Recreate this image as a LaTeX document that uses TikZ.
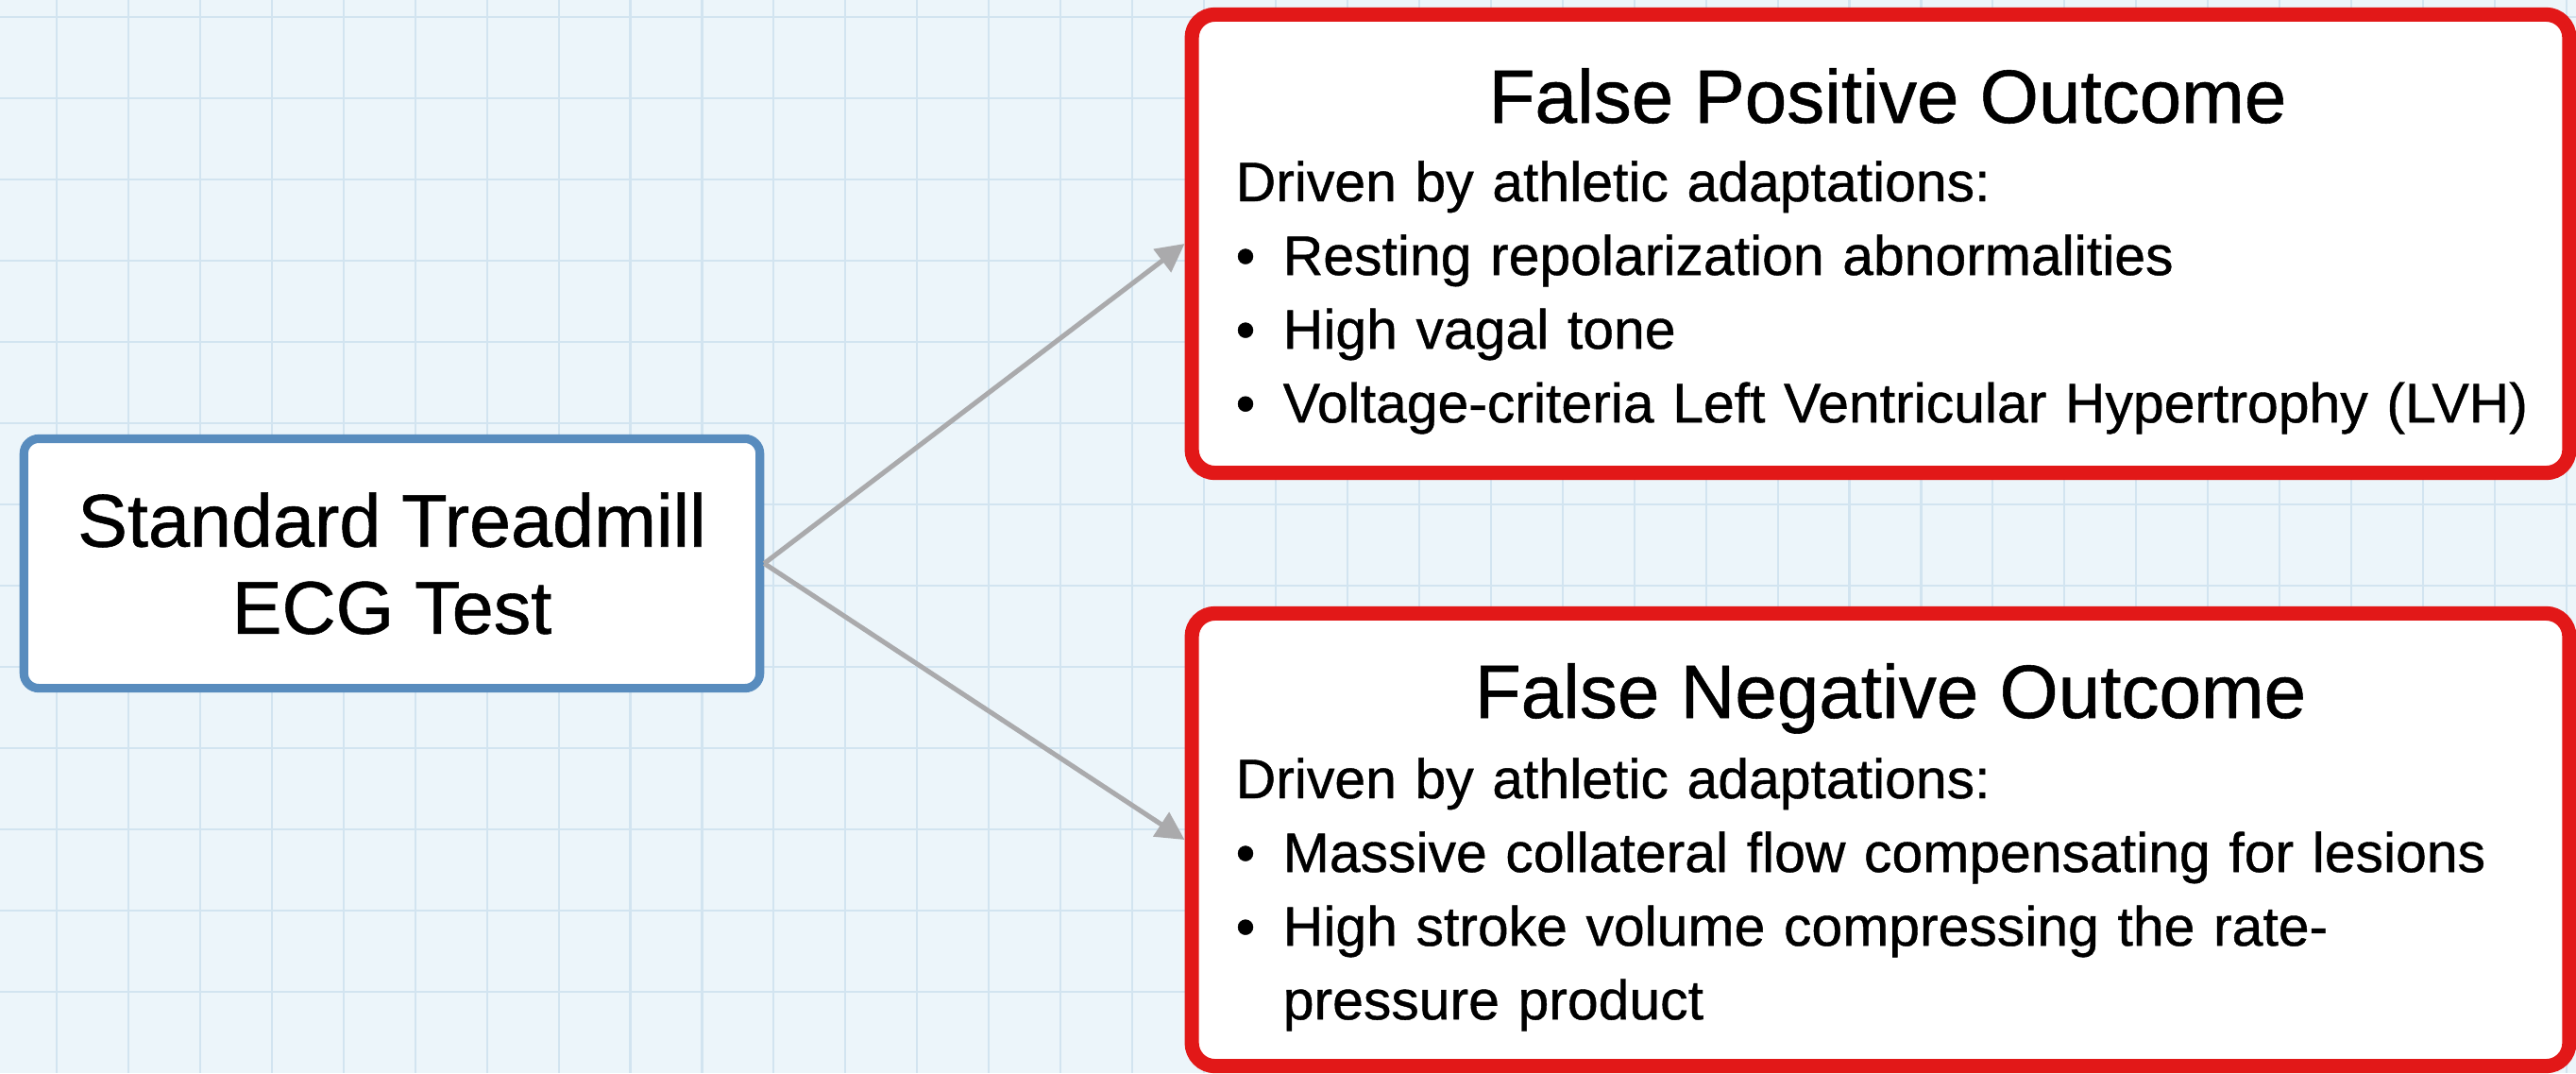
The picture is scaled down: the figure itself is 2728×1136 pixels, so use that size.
\documentclass[tikz,border=0pt]{standalone}
\usepackage{fontspec}
\setmainfont{Liberation Sans}[FakeBold=0.7]
\usepackage{tikz}
\usetikzlibrary{arrows.meta}

\definecolor{gridbg}{RGB}{236,245,250}
\definecolor{gridline}{RGB}{210,228,240}
\definecolor{ecgblue}{RGB}{88,140,190}
\definecolor{outred}{RGB}{226,24,24}
\definecolor{arrowgray}{RGB}{170,170,172}

\newcommand{\itm}{\textbullet\hspace{0.5em}}

\begin{document}
\begin{tikzpicture}[x=0.01cm, y=-0.01cm,
				>={Triangle[length=8.5pt,width=8.5pt]},   %Pfeilspitzen
				startbox/.style={draw=ecgblue, line width=2.6pt, fill=white, rounded corners=4.5pt, minimum width=7.79cm, minimum height=2.64cm, align=center, font=\fontsize{22.5pt}{26.2pt}\selectfont},
				outbox/.style={draw=outred, line width=4.3pt, fill=white, rounded corners=7pt, minimum width=14.58cm},
				titletext/.style={inner sep=0pt, anchor=base, font=\fontsize{22.75pt}{26pt}\selectfont},
				bodytext/.style={inner sep=0pt, anchor=base west, text width=14.1cm, align=left, font=\fontsize{16.75pt}{22.2pt}\selectfont},
				link/.style={->, draw=arrowgray, line width=1.45pt}]
				%Hintergrund und Raster
				\fill[gridbg] (0,0) rectangle (2728,1136);
				\useasboundingbox (0,0) rectangle (2728,1136);
				\foreach \i in {0,...,35} \draw[gridline, line width=0.6pt] ({60+75.94*\i},0) -- ({60+75.94*\i},1136);
				\foreach \j in {0,...,12} \draw[gridline, line width=0.6pt] (0,{18+86*\j}) -- (2728,{18+86*\j});
				% Kaesten
				\node[startbox] (ecg) at (415,596.5) {Standard Treadmill\\ECG Test};
				\node[outbox, minimum height=4.85cm] (fpbox) at (1991.5,258) {};
				\node[outbox, minimum height=4.79cm] (fnbox) at (1991.5,889) {};
				% Texte
				\node[titletext] (fptitle) at (1999,130) {False Positive Outcome};
				\node[bodytext] (fpbody) at (1308,213) {Driven by athletic adaptations:\\
					\itm Resting repolarization abnormalities\\
					\itm High vagal tone\\
					\itm Voltage-criteria Left Ventricular Hypertrophy (LVH)};
				\node[titletext] (fntitle) at (2002,760) {False Negative Outcome};
				\node[bodytext] (fnbody) at (1308,845) {Driven by athletic adaptations:\\
					\itm Massive collateral flow compensating for lesions\\
					\itm High stroke volume compressing the rate-\\
					\hphantom{\itm}pressure product};
				% Pfeile
				\draw[link] (ecg.east) -- (fpbox.west);
				\draw[link] (ecg.east) -- (fnbox.west);
			\end{tikzpicture}
\end{document}
